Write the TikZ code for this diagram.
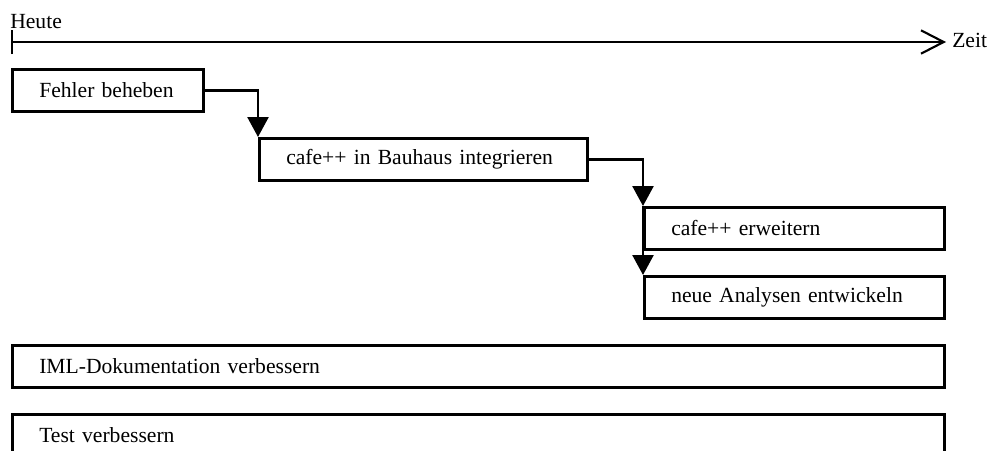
\documentclass[tikz,border=0pt]{standalone}
\usepackage{fontspec}
\setmainfont{Liberation Serif}
\usetikzlibrary{arrows.meta}
\begin{document}
\begin{tikzpicture}[
  x=0.75pt, y=-0.75pt,
  font=\fontsize{16.2pt}{19pt}\selectfont,
  task/.style={draw, line width=1.9pt, anchor=north west, align=left,
    inner xsep=20.25pt, inner ysep=0pt, minimum height=31.5pt, text width=#1},
  conn/.style={line width=1.9pt, -{Triangle[width=15.75pt,length=15pt]}},
  axis/.style={line width=1.6pt}
]
\useasboundingbox (0,0) rectangle (992,450);
\clip (0,0) rectangle (992,450);

% time axis
\coordinate (now) at (11,42);
\coordinate (later) at (946,42);
\draw[axis, {Bar[width=18pt]}-{Straight Barb[length=17pt,width=17.5pt]}] (now) -- (later);
\node[anchor=base west, inner sep=0pt] (heute) at (10,28) {Heute};
\node[anchor=base west, inner sep=0pt] (zeit) at (952,47) {Zeit};

% tasks
\node[task=102.75pt] (fix) at (11,68) {Fehler beheben};
\node[task=205.5pt] (bauhaus) at (258,137) {cafe++ in Bauhaus integrieren};
\node[task=184.5pt] (erw) at (643,206) {cafe++ erweitern};
\node[task=184.5pt] (ana) at (643,275) {neue Analysen entwickeln};
\node[task=658.5pt] (iml) at (11,344) {IML-Dokumentation verbessern};
\node[task=658.5pt] (test) at (11,413) {Test verbessern};

% dependencies
\draw[conn] (fix.east) -| (bauhaus.north west);
\draw[conn] (bauhaus.east) -| (erw.north west);
\draw[conn] (erw.north west) -- (ana.north west);
\end{tikzpicture}
\end{document}
